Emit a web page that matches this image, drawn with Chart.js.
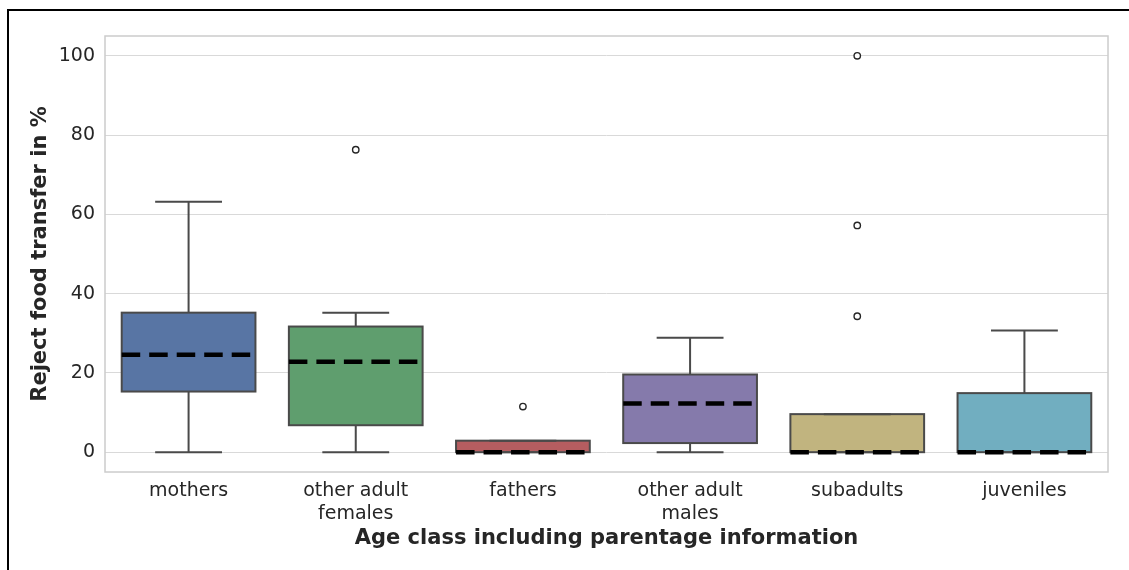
<!DOCTYPE html>
<html>
<head>
<meta charset="utf-8">
<script src="https://cdn.jsdelivr.net/npm/chart.js@4.4.1/dist/chart.umd.min.js"></script>
<style>
  html, body { margin: 0; padding: 0; background: #ffffff; overflow: hidden; }
  #wrap { position: relative; width: 1129px; height: 570px; }
  #frame { position: absolute; left: 7px; top: 9px; width: 1300px; height: 800px; border: 2px solid #000; box-sizing: border-box; }
  #chart { position: absolute; left: 0; top: 0; }
</style>
</head>
<body>
<div id="wrap">
  <div id="frame"></div>
  <canvas id="chart" width="1129" height="570"></canvas>
</div>
<script>
// Age classes on the x axis
const categories = ['mothers', 'other adult females', 'fathers', 'other adult males', 'subadults', 'juveniles'];

// Box statistics per class (percent of rejected food transfers)
const whiskerLow  = [0,    0,    0,   0,    0,   0];
const q1          = [15.3, 6.8,  0,   2.3,  0,   0];
const medians     = [24.6, 22.8, 0,   12.3, 0,   0];
const q3          = [35.2, 31.7, 2.9, 19.6, 9.6, 14.9];
const whiskerHigh = [63.2, 35.2, 2.9, 28.9, 9.6, 30.7];

// Outlying observations
const outlierClass  = ['other adult females', 'fathers', 'subadults', 'subadults', 'subadults'];
const outlierValues = [76.3, 11.5, 100, 57.2, 34.3];

// Y axis ticks
const yTicks = [0, 20, 40, 60, 80, 100];

const boxColors = ['#5875a4', '#5f9e6e', '#b55d60', '#857aab', '#c1b47f', '#71aec0'];
const edgeColor = '#4a4a4a';
const textColor = '#262626';

// Whiskers, caps, box outlines, dashed medians and the axes frame
const boxExtras = {
  id: 'boxExtras',
  afterDatasetsDraw(chart) {
    const ctx = chart.ctx;
    const y = chart.scales.y;
    const bars = chart.getDatasetMeta(0).data;
    ctx.save();
    bars.forEach((bar, i) => {
      const half = bar.width / 2;
      const cx = bar.x;
      const capHalf = half / 2;
      const pQ3 = y.getPixelForValue(q3[i]);
      const pHi = y.getPixelForValue(whiskerHigh[i]);
      const pQ1 = y.getPixelForValue(q1[i]);
      const pLo = y.getPixelForValue(whiskerLow[i]);
      ctx.strokeStyle = edgeColor;
      ctx.lineWidth = 2;
      ctx.setLineDash([]);
      ctx.lineCap = 'butt';
      // whiskers and caps
      ctx.beginPath();
      ctx.moveTo(cx, pQ3); ctx.lineTo(cx, pHi);
      ctx.moveTo(cx - capHalf, pHi); ctx.lineTo(cx + capHalf, pHi);
      ctx.moveTo(cx, pQ1); ctx.lineTo(cx, pLo);
      ctx.moveTo(cx - capHalf, pLo); ctx.lineTo(cx + capHalf, pLo);
      ctx.stroke();
      // box outline
      ctx.lineJoin = 'miter';
      ctx.strokeRect(cx - half, pQ3, bar.width, pQ1 - pQ3);
      // median
      const pMed = y.getPixelForValue(medians[i]);
      ctx.strokeStyle = '#000000';
      ctx.lineWidth = 4.5;
      ctx.setLineDash([18.5, 9]);
      ctx.beginPath();
      ctx.moveTo(cx - half, pMed); ctx.lineTo(cx + half, pMed);
      ctx.stroke();
    });
    // axes frame
    const a = chart.chartArea;
    ctx.setLineDash([]);
    ctx.strokeStyle = '#cccccc';
    ctx.lineWidth = 1.5;
    ctx.strokeRect(a.left, a.top, a.right - a.left, a.bottom - a.top);
    ctx.restore();
  }
};

new Chart(document.getElementById('chart'), {
  type: 'bar',
  data: {
    labels: categories,
    datasets: [
      {
        type: 'bar',
        data: categories.map((c, i) => [q1[i], q3[i]]),
        backgroundColor: boxColors,
        borderWidth: 0,
        barPercentage: 0.8,
        categoryPercentage: 1.0,
        order: 2
      },
      {
        type: 'line',
        data: outlierClass.map((c, i) => ({ x: c, y: outlierValues[i] })),
        showLine: false,
        pointRadius: 3.2,
        pointBorderWidth: 1.4,
        pointBorderColor: textColor,
        pointBackgroundColor: '#ffffff',
        order: 1
      }
    ]
  },
  options: {
    responsive: false,
    devicePixelRatio: 1,
    animation: false,
    layout: { padding: { left: 0, right: 21, top: 36, bottom: 0 } },
    plugins: { legend: { display: false }, tooltip: { enabled: false } },
    scales: {
      x: {
        grid: { display: false, drawTicks: false },
        border: { display: false },
        ticks: {
          padding: 8,
          color: textColor,
          font: { family: 'DejaVu Sans', size: 19 },
          maxRotation: 0,
          autoSkip: false,
          callback: function (value) {
            const s = this.getLabelForValue(value);
            return s.startsWith('other adult ') ? ['other adult', s.slice(12)] : s;
          }
        },
        title: {
          display: true,
          text: 'Age class including parentage information',
          color: textColor,
          font: { family: 'DejaVu Sans', size: 21, weight: 'bold' },
          padding: { top: 0, bottom: 19 }
        },
        afterFit: (s) => { s.height = 98; }
      },
      y: {
        min: -5,
        max: 105,
        afterBuildTicks: (s) => { s.ticks = yTicks.map(v => ({ value: v })); },
        grid: { color: '#d9d9d9', lineWidth: 1, drawTicks: false },
        border: { display: false },
        ticks: {
          padding: 10,
          color: textColor,
          font: { family: 'DejaVu Sans', size: 19 }
        },
        title: {
          display: true,
          text: 'Reject food transfer in %',
          color: textColor,
          font: { family: 'DejaVu Sans', size: 21, weight: 'bold' },
          padding: { top: 28, bottom: 0 }
        },
        afterFit: (s) => { s.width = 105; }
      }
    }
  },
  plugins: [boxExtras]
});
</script>
</body>
</html>
